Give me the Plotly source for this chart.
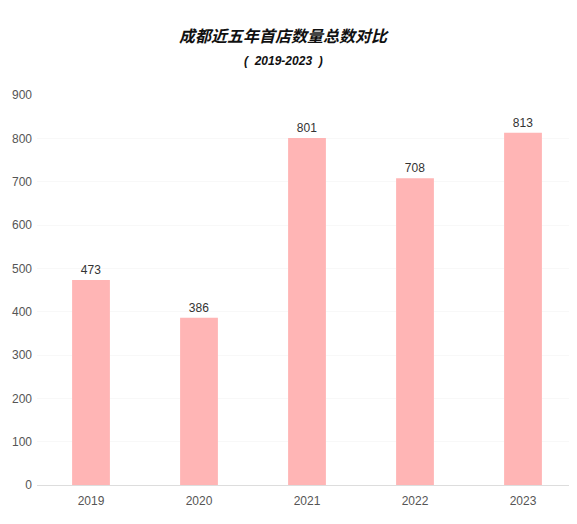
import plotly.graph_objects as go

years = ["2019", "2020", "2021", "2022", "2023"]
store_counts = [473, 386, 801, 708, 813]
y_ticks = [0, 100, 200, 300, 400, 500, 600, 700, 800, 900]

fig = go.Figure()
fig.add_trace(go.Bar(
    x=years, y=store_counts,
    text=[str(v) for v in store_counts],
    textposition="outside",
    textfont=dict(size=12, color="#333333"),
    marker=dict(color="#FFB5B5", line=dict(width=0)),
    cliponaxis=False,
))

# page body adds an 8px margin, so the figure is shrunk by that much
fig.update_layout(
    width=569, height=516,
    margin=dict(l=29, r=0, t=87, b=39),
    paper_bgcolor="white", plot_bgcolor="white",
    bargap=0.65,
    showlegend=False,
    font=dict(family="Liberation Sans, Noto Sans CJK SC, sans-serif", size=12, color="#555555"),
    annotations=[
        dict(text="<b><i>成都近五年首店数量总数对比</i></b>", x=0.457, y=1 + (95 - 35) / 390,
             xref="paper", yref="paper", yanchor="middle", showarrow=False,
             font=dict(size=16, color="#111111", family="Noto Sans CJK SC, sans-serif")),
        dict(text="<b><i>(  2019-2023  )</i></b>", x=0.457, y=1 + (95 - 61) / 390,
             xref="paper", yref="paper", yanchor="middle", showarrow=False,
             font=dict(size=12, color="#111111", family="Liberation Sans, sans-serif")),
    ],
)

fig.update_xaxes(
    showline=True, linecolor="#DDDDDD", linewidth=1,
    ticks="", tickfont=dict(size=12, color="#555555"),
    showgrid=False,
    ticklabelstandoff=5,
)
fig.update_yaxes(
    range=[0, 900], tickvals=y_ticks,
    showgrid=True, gridcolor="#F8F8F8",
    zeroline=False, showline=False,
    tickfont=dict(size=12, color="#555555"),
    ticklabelstandoff=4,
)

fig.write_html("out.html")
